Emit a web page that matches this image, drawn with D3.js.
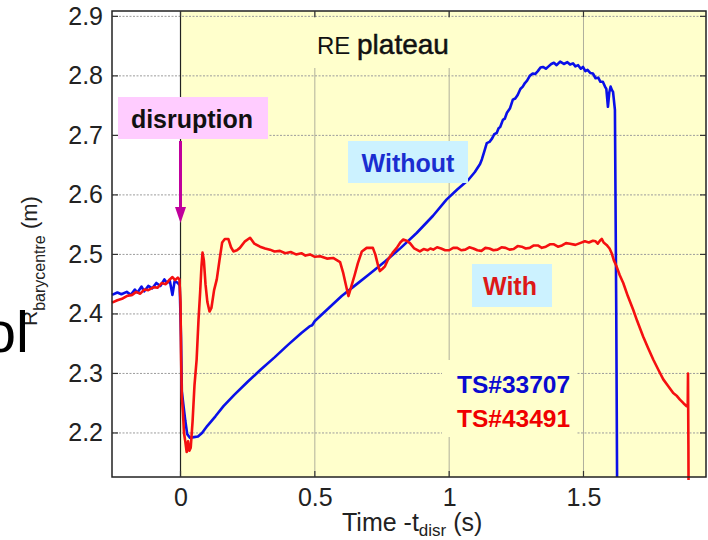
<!DOCTYPE html>
<html>
<head>
<meta charset="utf-8">
<script src="https://cdn.jsdelivr.net/npm/d3@7"></script>
<style>
  html, body { margin: 0; padding: 0; background: #ffffff; }
  svg { display: block; font-family: "Liberation Sans", Arial, sans-serif; }
</style>
</head>
<body>
<svg id="chart" width="708" height="540"></svg>
<script>
// ---- data ----
const xTicks = [0, 0.5, 1, 1.5];
const yTicks = [2.2, 2.3, 2.4, 2.5, 2.6, 2.7, 2.8, 2.9];

// TS#33707 "Without"
const blueT = [-0.255,-0.235,-0.22,-0.2,-0.185,-0.17,-0.16,-0.145,-0.135,-0.12,-0.105,-0.09,-0.075,-0.06,-0.05,-0.04,-0.03,-0.022,-0.01,-0.003,
  0.002,0.005,0.01,0.018,0.025,0.035,0.05,0.065,0.08,0.1,0.13,0.16,0.2,0.25,0.3,0.35,0.4,0.45,0.48,0.49,0.5,0.55,0.6,0.65,0.7,0.761,0.82,0.879,0.94,0.99,
  1.03,1.071,1.095,1.115,1.122,1.13,1.14,1.15,1.16,1.168,1.177,1.184,1.19,1.2,1.207,1.215,1.226,1.237,1.246,1.255,1.265,1.274,1.282,1.29,1.3,1.311,1.32,1.33,1.34,1.349,1.36,1.37,1.38,1.39,1.4,1.413,1.427,1.44,1.45,1.461,1.47,1.48,1.49,1.498,1.507,1.515,1.525,1.535,1.545,1.555,1.563,1.572,1.58,1.585,1.591,1.596,1.601,1.606,1.61,1.617,1.622,1.625];
const blueV = [2.432,2.436,2.433,2.437,2.432,2.441,2.436,2.446,2.438,2.447,2.443,2.452,2.447,2.458,2.452,2.456,2.432,2.455,2.452,2.448,
  2.36,2.27,2.25,2.22,2.198,2.192,2.193,2.194,2.2,2.212,2.228,2.245,2.264,2.286,2.307,2.327,2.348,2.368,2.379,2.381,2.388,2.409,2.43,2.448,2.466,2.488,2.511,2.536,2.565,2.592,
  2.609,2.625,2.638,2.652,2.66,2.672,2.687,2.689,2.695,2.702,2.704,2.712,2.714,2.726,2.728,2.738,2.745,2.76,2.762,2.768,2.778,2.782,2.788,2.792,2.8,2.804,2.803,2.808,2.814,2.815,2.812,2.816,2.82,2.822,2.818,2.824,2.82,2.823,2.819,2.821,2.816,2.818,2.812,2.815,2.808,2.81,2.805,2.804,2.796,2.797,2.79,2.79,2.782,2.778,2.748,2.772,2.782,2.776,2.773,2.743,2.4,2.126];

// TS#43491 "With"
const redT = [-0.255,-0.235,-0.215,-0.2,-0.18,-0.165,-0.15,-0.135,-0.12,-0.1,-0.085,-0.07,-0.055,-0.04,-0.03,-0.02,-0.01,-0.004,
  0.0,0.002,0.005,0.009,0.013,0.018,0.023,0.028,0.033,0.038,0.045,0.052,0.06,0.067,0.073,0.078,0.082,0.087,0.093,0.1,0.108,0.115,0.125,0.135,0.145,0.155,0.165,0.178,0.188,0.197,0.21,0.221,0.24,0.259,0.275,0.296,
  0.315,0.333,0.35,0.37,0.39,0.41,0.43,0.45,0.465,0.482,0.5,0.52,0.545,0.568,0.594,0.605,0.615,0.625,0.635,0.648,0.66,0.675,0.693,0.716,0.725,0.735,0.742,0.752,0.761,0.772,0.79,0.805,0.818,0.829,0.842,0.854,0.87,0.891,0.905,0.92,0.93,0.941,0.955,0.97,0.985,
  1.0,1.015,1.03,1.045,1.06,1.075,1.09,1.105,1.12,1.135,1.15,1.165,1.18,1.195,1.21,1.225,1.24,1.255,1.27,1.285,1.3,1.315,1.33,1.345,1.36,1.375,1.39,1.405,1.42,1.435,1.45,1.47,1.487,1.505,1.52,1.535,1.545,1.553,1.561,1.568,1.575,1.586,1.597,1.605,1.613,1.623,1.635,1.648,1.665,1.685,1.7,1.722,1.74,1.76,1.78,1.797,1.815,1.834,1.848,1.859,1.872,1.884,1.888,1.889,1.8905,1.891];
const redV = [2.419,2.423,2.426,2.43,2.432,2.437,2.434,2.441,2.44,2.445,2.444,2.452,2.45,2.458,2.462,2.457,2.461,2.458,
  2.42,2.33,2.26,2.235,2.2,2.185,2.168,2.186,2.17,2.175,2.22,2.28,2.323,2.39,2.436,2.48,2.503,2.49,2.45,2.42,2.404,2.41,2.44,2.458,2.49,2.52,2.526,2.526,2.512,2.505,2.507,2.511,2.522,2.528,2.518,2.513,
  2.51,2.508,2.505,2.506,2.502,2.504,2.5,2.502,2.498,2.5,2.496,2.497,2.493,2.494,2.487,2.47,2.45,2.43,2.445,2.465,2.485,2.505,2.511,2.511,2.5,2.482,2.472,2.476,2.48,2.491,2.503,2.511,2.52,2.525,2.523,2.519,2.51,2.505,2.509,2.507,2.51,2.508,2.512,2.51,2.507,
  2.507,2.511,2.511,2.507,2.508,2.512,2.51,2.507,2.506,2.511,2.51,2.507,2.508,2.512,2.511,2.508,2.509,2.514,2.513,2.51,2.511,2.515,2.515,2.511,2.513,2.517,2.517,2.513,2.515,2.519,2.518,2.516,2.519,2.522,2.52,2.523,2.522,2.518,2.523,2.526,2.52,2.516,2.51,2.502,2.49,2.48,2.465,2.452,2.43,2.407,2.388,2.362,2.343,2.323,2.305,2.29,2.279,2.267,2.262,2.256,2.25,2.245,2.244,2.3,2.18,2.121];

const legendLabels = ["TS#33707", "TS#43491"];

// ---- layout ----
const L = 112, R = 706, T = 11, B = 477;
const svg = d3.select("#chart");
const x = d3.scaleLinear().domain([-0.255, 1.956]).range([L, R]);
const y = d3.scaleLinear().domain([2.126, 2.909]).range([B, T]);

// yellow RE plateau region
svg.append("rect").attr("x", x(0)).attr("y", T).attr("width", R - x(0)).attr("height", B - T).attr("fill", "#ffffcc");

// grid
svg.append("g").selectAll("line").data(yTicks).join("line")
  .attr("x1", L).attr("x2", R).attr("y1", d => y(d)).attr("y2", d => y(d))
  .attr("stroke", "#9c9c9c").attr("stroke-width", 1).attr("stroke-dasharray", "2,1.5");
svg.append("g").selectAll("line").data(xTicks.filter(d => d !== 0)).join("line")
  .attr("x1", d => x(d)).attr("x2", d => x(d)).attr("y1", T).attr("y2", B)
  .attr("stroke", "#b0b09c").attr("stroke-width", 1);

// yellow backgrounds behind text blocks (hide grid)
svg.append("rect").attr("x", 300).attr("y", 18).attr("width", 170).attr("height", 50).attr("fill", "#ffffcc");
svg.append("rect").attr("x", 442).attr("y", 360).attr("width", 135).attr("height", 77).attr("fill", "#ffffcc");

// disruption line at t=0
svg.append("line").attr("x1", x(0)).attr("x2", x(0)).attr("y1", T).attr("y2", B)
  .attr("stroke", "#222").attr("stroke-width", 1.2);

// series
const line = d3.line().x(d => x(d[0])).y(d => y(d[1]));
svg.append("path").datum(d3.zip(blueT, blueV)).attr("d", line)
  .attr("fill", "none").attr("stroke", "#0a10e8").attr("stroke-width", 2.6).attr("stroke-linejoin", "round");
svg.append("path").datum(d3.zip(redT, redV)).attr("d", line)
  .attr("fill", "none").attr("stroke", "#f51010").attr("stroke-width", 2.6).attr("stroke-linejoin", "round");

// frame
svg.append("rect").attr("x", L).attr("y", T).attr("width", R - L).attr("height", B - T)
  .attr("fill", "none").attr("stroke", "#222").attr("stroke-width", 1.5);

// inward ticks on all sides
const tk = 6;
const tg = svg.append("g").attr("stroke", "#333").attr("stroke-width", 1.2);
yTicks.forEach(v => {
  tg.append("line").attr("x1", L).attr("x2", L + tk).attr("y1", y(v)).attr("y2", y(v));
  tg.append("line").attr("x1", R).attr("x2", R - tk).attr("y1", y(v)).attr("y2", y(v));
});
xTicks.forEach(v => {
  tg.append("line").attr("x1", x(v)).attr("x2", x(v)).attr("y1", B).attr("y2", B - tk);
  tg.append("line").attr("x1", x(v)).attr("x2", x(v)).attr("y1", T).attr("y2", T + tk);
});

// axes labels
const yAxis = svg.append("g").attr("transform", `translate(${L},0)`)
  .call(d3.axisLeft(y).tickValues(yTicks).tickFormat(d3.format(".1f")).tickSize(0).tickPadding(9));
const xAxis = svg.append("g").attr("transform", `translate(0,${B})`)
  .call(d3.axisBottom(x).tickValues(xTicks).tickFormat(d => d3.format("")(d)).tickSize(0).tickPadding(11));
[yAxis, xAxis].forEach(a => {
  a.select(".domain").remove();
  a.selectAll("text").attr("font-size", 25).attr("fill", "#222").attr("font-family", "Liberation Sans, Arial, sans-serif");
});

// disruption label + arrow
svg.append("rect").attr("x", 118).attr("y", 97).attr("width", 150).attr("height", 42).attr("fill", "#ffccff");
svg.append("text").attr("x", 192).attr("y", 128).attr("text-anchor", "middle")
  .attr("font-size", 25).attr("font-weight", "bold").attr("fill", "#111").text("disruption");
svg.append("line").attr("x1", x(0)).attr("x2", x(0)).attr("y1", 141).attr("y2", 210)
  .attr("stroke", "#c0009c").attr("stroke-width", 3);
svg.append("path").attr("d", `M${x(0) - 5.5},207 L${x(0) + 5.5},207 L${x(0)},223 Z`).attr("fill", "#c0009c");

// RE plateau
const re = svg.append("text").attr("x", 317).attr("y", 54).attr("fill", "#111");
re.append("tspan").attr("font-size", 24).text("RE ");
re.append("tspan").attr("font-size", 28).attr("stroke", "#111").attr("stroke-width", 0.5).text("plateau");

// Without box
svg.append("rect").attr("x", 348).attr("y", 141).attr("width", 120).attr("height", 42).attr("fill", "#ccf2ff");
svg.append("text").attr("x", 408).attr("y", 172).attr("text-anchor", "middle")
  .attr("font-size", 25).attr("font-weight", "bold").attr("fill", "#1a2ed0").text("Without");

// With box
svg.append("rect").attr("x", 472).attr("y", 264).attr("width", 80).attr("height", 43).attr("fill", "#ccf2ff");
svg.append("text").attr("x", 510).attr("y", 295).attr("text-anchor", "middle")
  .attr("font-size", 25).attr("font-weight", "bold").attr("fill", "#dd1818").text("With");

// legend
svg.append("text").attr("x", 457).attr("y", 393).attr("font-size", 24.5).attr("font-weight", "bold")
  .attr("fill", "#0a0ad0").text(legendLabels[0]);
svg.append("text").attr("x", 457).attr("y", 427).attr("font-size", 24.5).attr("font-weight", "bold")
  .attr("fill", "#f00000").text(legendLabels[1]);

// x axis title
const xt = svg.append("text").attr("x", 342).attr("y", 531).attr("font-size", 25).attr("fill", "#222");
xt.append("tspan").text("Time -t");
xt.append("tspan").attr("font-size", 17).attr("dy", 5).text("disr");
xt.append("tspan").attr("dy", -5).text(" (s)");

// y axis title (rotated)
const yt = svg.append("text").attr("transform", "translate(37,326) rotate(-90)").attr("font-size", 21).attr("fill", "#222");
yt.append("tspan").text("R");
yt.append("tspan").attr("font-size", 16).attr("dy", 8).text("barycentre");
yt.append("tspan").attr("font-size", 22).attr("dy", -8).text(" (m)");

// cut-off slide text on the left
svg.append("text").attr("x", 29).attr("y", 352).attr("text-anchor", "end")
  .attr("font-size", 58).attr("fill", "#000").text("ol");
</script>
</body>
</html>
